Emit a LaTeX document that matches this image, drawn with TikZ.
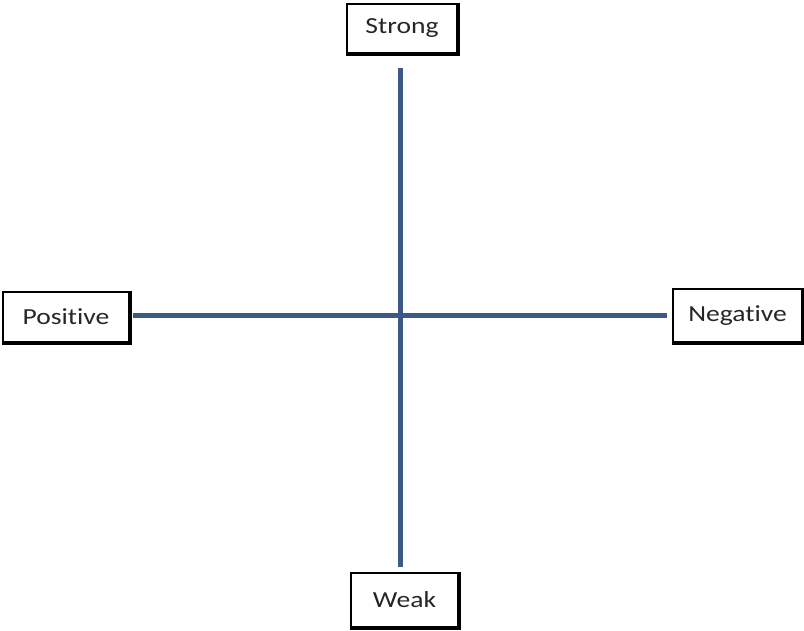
\documentclass[tikz,border=0pt]{standalone}
\usepackage{fontspec}
\newfontfamily\boxfont[FakeStretch=1.2, Ligatures=NoCommon]{Carlito}
\usetikzlibrary{positioning,calc}
\definecolor{axisblue}{RGB}{60,90,132}

\begin{document}
\begin{tikzpicture}[x=1pt, y=-1pt, thick]
    % Estilos
    \tikzstyle{pole} = [draw, rectangle, line width=1.6pt, inner sep=0pt, font=\boxfont\fontsize{23}{25}\selectfont, text=black!85]
    \tikzstyle{axis} = [draw=axisblue, line width=5.5pt]

    \useasboundingbox (0,0) rectangle (804,631);

    % --- Nodos ---
    \node [pole, minimum width=110pt, minimum height=49pt] (strong) at (402,28.5) {Strong};
    \node [pole, minimum width=107pt, minimum height=54pt] (weak) at (404.5,600) {Weak};
    \node [pole, minimum width=126pt, minimum height=50pt] (positive) at (66,317) {Positive};
    \node [pole, minimum width=129pt, minimum height=53pt] (negative) at (737.5,315.5) {Negative};
    \coordinate (origin) at (400.5,315.5);

    % Bordes gruesos abajo y a la derecha
    \foreach \n in {strong,weak,positive,negative}
        \draw [line width=3.5pt] (\n.south west) -- (\n.south east) -- (\n.north east);

    % --- Ejes ---
    \draw [axis, shorten <=14pt, shorten >=5pt] (origin |- strong.south) -- (origin |- weak.north);
    \draw [axis, shorten <=3pt, shorten >=5pt] (origin -| positive.east) -- (origin -| negative.west);

\end{tikzpicture}
\end{document}
